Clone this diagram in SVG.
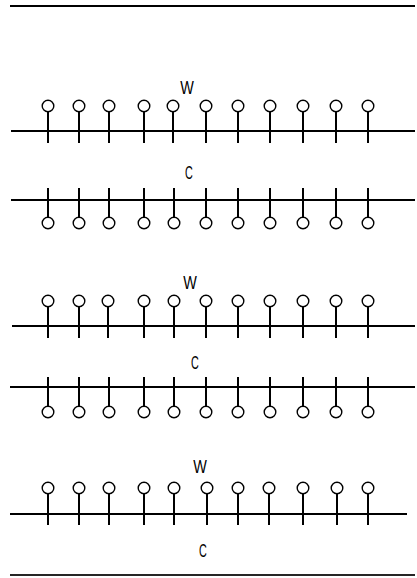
<svg xmlns="http://www.w3.org/2000/svg" xmlns:xlink="http://www.w3.org/1999/xlink" width="417" height="578" viewBox="0 0 417 578">
<style>
.bg{fill:#fff}
.rule{stroke:#000;stroke-width:2.2;fill:none}
.axis{stroke:#000;stroke-width:2.2;fill:none}
.stem{stroke:#000;stroke-width:2;fill:none}
.head{stroke:#000;stroke-width:1.4;fill:#fff}
.lbl{font-family:"Liberation Sans",Arial,sans-serif;font-size:18px;fill:#000;text-anchor:middle}
</style>
<defs>
<g id="up">
<line class="stem" x1="0" y1="6" x2="0" y2="37"/>
<circle class="head" cx="0" cy="0" r="5.8"/>
</g>
<g id="down">
<line class="stem" x1="0" y1="-35" x2="0" y2="-6"/>
<circle class="head" cx="0" cy="0" r="5.8"/>
</g>
</defs>
<rect class="bg" x="0" y="0" width="417" height="578"/>
<line class="rule" x1="10" y1="6" x2="415" y2="6"/>
<line class="rule" x1="10" y1="575" x2="415" y2="575" stroke-opacity="0.85"/>

<g id="row-w1">
<text class="lbl" transform="translate(187 94) scale(0.8 1)">W</text>
<line class="axis" x1="11" y1="131" x2="415" y2="131"/>
<use xlink:href="#up" x="48" y="106"/><use xlink:href="#up" x="79" y="106"/><use xlink:href="#up" x="109" y="106"/><use xlink:href="#up" x="144" y="106"/><use xlink:href="#up" x="173" y="106"/><use xlink:href="#up" x="206" y="106"/><use xlink:href="#up" x="238" y="106"/><use xlink:href="#up" x="270" y="106"/><use xlink:href="#up" x="303" y="106"/><use xlink:href="#up" x="336" y="106"/><use xlink:href="#up" x="368" y="106"/>
</g>

<g id="row-c1">
<text class="lbl" transform="translate(189 179) scale(0.6 1)">C</text>
<line class="axis" x1="11" y1="200" x2="415" y2="200"/>
<use xlink:href="#down" x="48" y="223"/><use xlink:href="#down" x="79" y="223"/><use xlink:href="#down" x="109" y="223"/><use xlink:href="#down" x="144" y="223"/><use xlink:href="#down" x="174" y="223"/><use xlink:href="#down" x="206" y="223"/><use xlink:href="#down" x="238" y="223"/><use xlink:href="#down" x="270" y="223"/><use xlink:href="#down" x="303" y="223"/><use xlink:href="#down" x="336" y="223"/><use xlink:href="#down" x="368" y="223"/>
</g>

<g id="row-w2">
<text class="lbl" transform="translate(190 289) scale(0.8 1)">W</text>
<line class="axis" x1="12" y1="326" x2="415" y2="326"/>
<use xlink:href="#up" x="48" y="301"/><use xlink:href="#up" x="79" y="301"/><use xlink:href="#up" x="108" y="301"/><use xlink:href="#up" x="144" y="301"/><use xlink:href="#up" x="174" y="301"/><use xlink:href="#up" x="206" y="301"/><use xlink:href="#up" x="238" y="301"/><use xlink:href="#up" x="270" y="301"/><use xlink:href="#up" x="303" y="301"/><use xlink:href="#up" x="336" y="301"/><use xlink:href="#up" x="368" y="301"/>
</g>

<g id="row-c2">
<text class="lbl" transform="translate(195 369) scale(0.6 1)">C</text>
<line class="axis" x1="10" y1="387" x2="415" y2="387"/>
<use xlink:href="#down" x="48" y="412"/><use xlink:href="#down" x="79" y="412"/><use xlink:href="#down" x="109" y="412"/><use xlink:href="#down" x="144" y="412"/><use xlink:href="#down" x="174" y="412"/><use xlink:href="#down" x="206" y="412"/><use xlink:href="#down" x="238" y="412"/><use xlink:href="#down" x="270" y="412"/><use xlink:href="#down" x="303" y="412"/><use xlink:href="#down" x="336" y="412"/><use xlink:href="#down" x="368" y="412"/>
</g>

<g id="row-w3">
<text class="lbl" transform="translate(200 473) scale(0.8 1)">W</text>
<line class="axis" x1="10" y1="514" x2="407" y2="514"/>
<use xlink:href="#up" x="48" y="488"/><use xlink:href="#up" x="79" y="488"/><use xlink:href="#up" x="109" y="488"/><use xlink:href="#up" x="144" y="488"/><use xlink:href="#up" x="174" y="488"/><use xlink:href="#up" x="207" y="488"/><use xlink:href="#up" x="238" y="488"/><use xlink:href="#up" x="269" y="488"/><use xlink:href="#up" x="303" y="488"/><use xlink:href="#up" x="337" y="488"/><use xlink:href="#up" x="368" y="488"/>
</g>

<g id="label-c3">
<text class="lbl" transform="translate(203 557) scale(0.6 1)">C</text>
</g>
</svg>
